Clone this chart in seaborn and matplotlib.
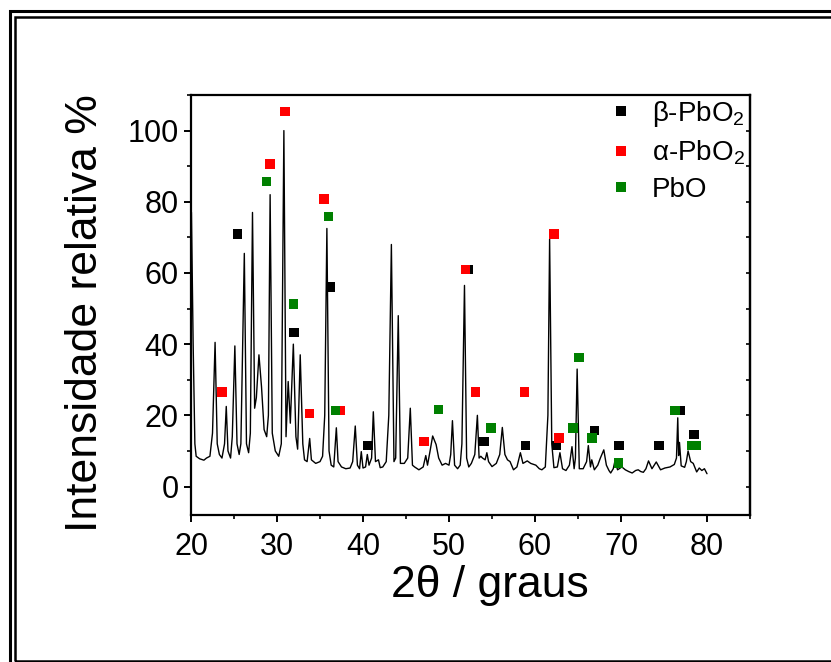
import numpy as np
import pandas as pd
import matplotlib
matplotlib.use("Agg")
import matplotlib.pyplot as plt
from matplotlib.patches import Rectangle
import seaborn as sns

# ---- data: XRD pattern (2theta, relative intensity) ----
two_theta = [20.0, 20.05, 20.25, 20.45, 20.6, 21.0, 21.5, 21.8, 22.2, 22.5, 22.8, 23.05, 23.3, 23.6, 23.9,
             24.1, 24.3, 24.6, 24.8, 25.1, 25.35, 25.6, 25.8, 26.2, 26.45, 26.7, 26.9, 27.15, 27.4, 27.6,
             27.9, 28.2, 28.5, 28.8, 29.0, 29.2, 29.45, 29.8, 30.2, 30.5, 30.8, 31.05, 31.3, 31.55, 31.9,
             32.2, 32.4, 32.7, 33.0, 33.2, 33.5, 33.8, 34.0, 34.5, 35.0, 35.3, 35.55, 35.8, 36.05, 36.3,
             36.6, 36.9, 37.1, 37.5, 38.0, 38.5, 38.8, 39.1, 39.35, 39.6, 39.8, 40.0, 40.3, 40.5, 40.7,
             41.0, 41.2, 41.45, 41.8, 42.0, 42.3, 42.7, 43.0, 43.3, 43.6, 43.8, 44.1, 44.35, 44.8, 45.2,
             45.5, 45.75, 46.0, 46.5, 47.0, 47.3, 47.5, 47.8, 48.1, 48.5, 48.8, 49.2, 49.6, 50.0, 50.2,
             50.4, 50.65, 51.0, 51.3, 51.5, 51.8, 52.05, 52.3, 52.6, 53.0, 53.3, 53.5, 53.7, 53.9, 54.2,
             54.4, 54.6, 55.0, 55.5, 55.9, 56.2, 56.5, 56.8, 57.1, 57.5, 57.9, 58.3, 58.6, 59.1, 59.5,
             60.1, 60.5, 60.8, 61.2, 61.5, 61.7, 61.95, 62.2, 62.6, 62.9, 63.2, 63.6, 64.0, 64.3, 64.55,
             64.7, 64.9, 65.15, 65.6, 66.0, 66.2, 66.45, 66.6, 66.9, 67.3, 67.6, 68.0, 68.3, 68.6, 68.8,
             69.1, 69.3, 69.6, 70.1, 70.5, 70.9, 71.3, 71.7, 72.0, 72.3, 72.6, 72.9, 73.2, 73.6, 74.1,
             74.6, 75.1, 75.7, 76.2, 76.45, 76.6, 76.7, 76.8, 77.0, 77.4, 77.6, 77.8, 78.1, 78.4, 78.8,
             79.1, 79.4, 79.7, 80.0]
intensity = [77.3, 77.0, 40.0, 12.0, 8.5, 7.8, 7.4, 8.0, 8.5, 15.0, 40.5, 12.0, 9.0, 8.0, 12.0,
             22.5, 10.0, 8.0, 14.0, 39.5, 12.0, 9.0, 12.0, 65.5, 12.0, 9.5, 15.0, 77.0, 22.0, 25.0,
             37.0, 28.0, 16.0, 14.0, 20.0, 82.0, 15.0, 10.0, 8.5, 12.0, 100.0, 14.0, 29.5, 17.8, 40.0,
             14.0, 10.5, 37.0, 12.0, 7.5, 7.0, 13.5, 7.5, 6.5, 7.0, 8.5, 20.0, 72.5, 10.0, 6.0,
             5.5, 16.5, 7.0, 5.5, 5.0, 5.2, 7.0, 17.0, 6.0, 5.0, 9.8, 5.2, 5.5, 9.0, 6.0,
             8.0, 21.0, 7.0, 7.5, 5.3, 5.5, 7.0, 20.0, 68.0, 7.0, 8.0, 48.0, 6.5, 6.5, 8.0,
             22.0, 6.0, 5.5, 4.7, 5.5, 8.7, 6.0, 10.0, 14.2, 11.8, 8.0, 6.0, 6.5, 6.0, 9.0,
             18.5, 6.0, 5.0, 6.0, 12.0, 56.5, 8.0, 5.5, 6.5, 9.0, 20.0, 8.0, 8.5, 8.0, 7.5,
             9.5, 7.0, 5.6, 6.5, 9.0, 16.6, 9.0, 7.5, 7.0, 4.7, 5.5, 9.5, 6.5, 7.2, 6.5,
             6.0, 5.0, 4.7, 5.5, 20.0, 69.5, 12.0, 5.3, 5.5, 9.5, 5.0, 4.5, 6.0, 11.2, 5.0,
             8.0, 33.0, 5.0, 5.0, 7.0, 11.5, 5.5, 7.5, 4.7, 6.0, 8.0, 10.3, 6.0, 4.5, 3.8,
             5.0, 7.2, 4.7, 5.5, 4.7, 4.2, 3.8, 4.5, 4.7, 4.2, 4.0, 5.0, 7.2, 5.0, 6.9,
             4.7, 5.2, 5.5, 6.2, 8.0, 19.3, 8.7, 12.4, 5.8, 5.4, 7.0, 10.0, 7.0, 6.5, 4.1,
             5.2, 4.5, 5.0, 3.6]

# ---- phase markers ----
beta_x = [25.4, 32.0, 36.2, 40.6, 52.2, 54.1, 58.9, 62.5, 66.9, 69.8, 74.4, 76.9, 78.5]
beta_y = [70.9, 43.3, 56.1, 11.5, 61.0, 12.7, 11.5, 11.5, 15.7, 11.5, 11.5, 21.4, 14.6]
alpha_x = [23.6, 29.2, 30.9, 33.8, 35.5, 37.4, 47.1, 51.9, 53.1, 58.8, 62.2, 62.8]
alpha_y = [26.5, 90.6, 105.4, 20.5, 80.8, 21.4, 12.7, 61.0, 26.5, 26.5, 70.9, 13.6]
pbo_x = [28.8, 31.9, 36.0, 36.8, 48.8, 54.9, 64.4, 65.1, 66.6, 69.7, 76.3, 78.2, 78.8]
pbo_y = [85.7, 51.2, 75.9, 21.4, 21.6, 16.5, 16.5, 36.3, 13.6, 6.6, 21.4, 11.5, 11.5]

phase_labels = ["β-PbO$_2$", "α-PbO$_2$", "PbO"]
phase_colors = ["#000000", "#ff0000", "#008000"]

x_ticks = [20, 30, 40, 50, 60, 70, 80]
y_ticks = [0, 20, 40, 60, 80, 100]

# ---- style ----
sns.set_theme(style="ticks")
plt.rcParams["font.family"] = ["Liberation Sans", "DejaVu Sans"]
plt.rcParams["mathtext.fontset"] = "custom"
plt.rcParams["mathtext.rm"] = "Liberation Sans"
plt.rcParams["mathtext.it"] = "Liberation Sans:italic"
plt.rcParams["text.color"] = "black"
plt.rcParams["axes.labelcolor"] = "black"

fig = plt.figure(figsize=(8.31, 6.62), dpi=100)
fig.patch.set_facecolor("white")
ax = fig.add_axes([191 / 831, 1 - 515 / 662, (750 - 191) / 831, (515 - 95) / 662])

curve = pd.DataFrame({"two_theta": two_theta, "intensity": intensity})
sns.lineplot(data=curve, x="two_theta", y="intensity", ax=ax, color="black",
             linewidth=1.0, estimator=None, sort=False, legend=False)

markers = pd.DataFrame({
    "x": beta_x + alpha_x + pbo_x,
    "y": beta_y + alpha_y + pbo_y,
    "phase": [phase_labels[0]] * len(beta_x) + [phase_labels[1]] * len(alpha_x)
             + [phase_labels[2]] * len(pbo_x),
})
sns.scatterplot(data=markers, x="x", y="y", hue="phase", hue_order=phase_labels,
                palette=phase_colors, marker="s", s=48, linewidth=0, ax=ax, zorder=3)

ax.set_xlim(20, 85)
ax.set_ylim(-8, 110)
ax.set_xticks(x_ticks)
ax.set_yticks(y_ticks)
ax.xaxis.set_minor_locator(matplotlib.ticker.MultipleLocator(5))
ax.yaxis.set_minor_locator(matplotlib.ticker.MultipleLocator(10))
for s in ax.spines.values():
    s.set_linewidth(1.6)
    s.set_color("black")
ax.tick_params(axis="both", which="major", direction="out", length=5, width=1.4,
               labelsize=22, colors="black", pad=4)
ax.tick_params(axis="x", which="major", pad=7)
ax.tick_params(axis="both", which="minor", direction="out", length=3, width=1.2, colors="black")
# right spine ticks inward (mirror)
sec = ax.secondary_yaxis("right")
sec.set_yticks(y_ticks)
sec.yaxis.set_minor_locator(matplotlib.ticker.MultipleLocator(10))
sec.tick_params(which="both", direction="in", length=3, width=1.2, labelright=False, colors="black")
sec.spines["right"].set_linewidth(1.6)
sec.spines["right"].set_color("black")
ax.tick_params(axis="y", which="both", right=False)

ax.set_xlabel("2θ / graus", fontsize=32, color="black")
ax.xaxis.set_label_coords(0.535, -0.169, transform=ax.transAxes)
ax.xaxis.label.set_verticalalignment("center")
ax.set_ylabel("Intensidade relativa %", fontsize=32, color="black")
ax.yaxis.set_label_coords(-0.188, 0.48, transform=ax.transAxes)
ax.yaxis.label.set_verticalalignment("center")

h, l = ax.get_legend_handles_labels()
leg = ax.legend(h, l, loc="upper left", bbox_to_anchor=(0.715, 1.03), frameon=False,
                fontsize=20, handlelength=1.0, handletextpad=0.6, labelspacing=0.35,
                borderaxespad=0.2, markerscale=1.0)
for t in leg.get_texts():
    t.set_color("black")

# double frame around the figure
fig.patches.append(Rectangle((9.5 / 831, -0.05), 1.2, 1 - 11.3 / 662 + 0.05,
                             transform=fig.transFigure, fill=False, edgecolor="black",
                             linewidth=2.2, clip_on=False))
fig.patches.append(Rectangle((14.5 / 831, 1 - 660.8 / 662), 1.2, (660.8 - 16.5) / 662,
                             transform=fig.transFigure, fill=False, edgecolor="black",
                             linewidth=1.8, clip_on=False))

fig.savefig("out.png", dpi=100)
